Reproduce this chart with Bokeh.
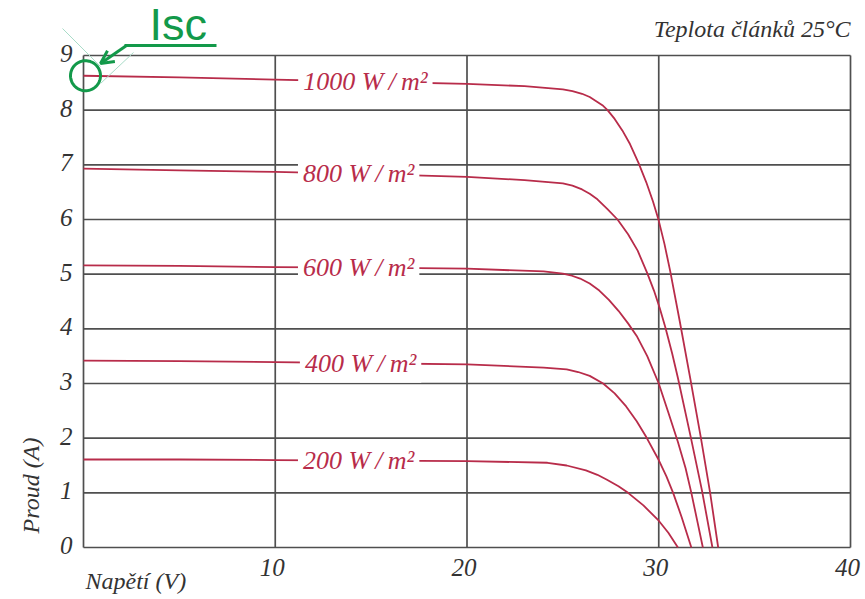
import numpy as np
from bokeh.plotting import figure
from bokeh.models import Label, Arrow, OpenHead, PolyAnnotation, Range1d
from bokeh.core.properties import value
from bokeh.embed import file_html
from bokeh.resources import INLINE

# ---- data ----
irradiance = ["1000", "800", "600", "400", "200"]

v_1000 = [0, 5, 10, 15, 20, 23, 25, 25.5, 26, 26.4, 26.8, 27.1, 27.33, 27.7, 28.1, 28.5, 28.95,
          29.35, 29.7, 30.0, 30.3, 30.6, 31.1, 31.65, 32.2, 32.68, 33.1]
i_1000 = [8.63, 8.60, 8.56, 8.52, 8.48, 8.44, 8.38, 8.35, 8.30, 8.24, 8.15, 8.08, 8.0, 7.84, 7.63, 7.38, 7.03,
          6.68, 6.33, 5.98, 5.55, 5.05, 4.13, 3.08, 2.0, 1.0, 0.0]

v_800 = [0, 5, 10, 15, 20, 23, 25, 25.5, 26, 26.4, 26.8, 27.3, 27.85, 28.4, 28.9, 29.4, 29.75, 30.05, 30.35,
         30.7, 31.0, 31.65, 32.25, 32.8]
i_800 = [6.93, 6.90, 6.87, 6.83, 6.78, 6.72, 6.66, 6.62, 6.55, 6.47, 6.37, 6.20, 6.0, 5.73, 5.43, 5.02, 4.70, 4.38,
         4.02, 3.55, 3.10, 2.05, 1.05, 0.0]

v_600 = [0, 5, 10, 15, 20, 24, 25, 25.4, 25.9, 26.4, 26.9, 27.4, 27.9, 28.4, 28.85, 29.4, 30.0, 30.5, 31.0,
         31.4, 31.7, 32.0, 32.3]
i_600 = [5.16, 5.15, 5.13, 5.12, 5.10, 5.05, 5.01, 4.98, 4.92, 4.83, 4.70, 4.53, 4.33, 4.10, 3.87, 3.50, 3.0, 2.47,
         1.93, 1.45, 1.0, 0.5, 0.0]

v_400 = [0, 5, 10, 15, 20, 24, 25.2, 25.8, 26.4, 27.1, 27.7, 28.3, 28.85, 29.35, 30.0, 30.4, 30.75, 31.2, 31.7]
i_400 = [3.42, 3.41, 3.39, 3.37, 3.35, 3.29, 3.26, 3.21, 3.14, 3.0, 2.82, 2.58, 2.31, 2.02, 1.60, 1.30, 1.0, 0.55, 0.0]

v_200 = [0, 5, 10, 15, 20, 24.2, 25.2, 26.2, 26.8, 27.3, 27.9, 28.4, 29.2, 30.0, 30.5, 31.0]
i_200 = [1.61, 1.61, 1.60, 1.59, 1.58, 1.55, 1.50, 1.41, 1.33, 1.24, 1.12, 1.0, 0.77, 0.49, 0.27, 0.0]

x_ticks = [0, 10, 20, 30, 40]
x_tick_labels = ["", "10", "20", "30", "40"]
y_ticks = [0, 1, 2, 3, 4, 5, 6, 7, 8, 9]
y_tick_labels = ["0", "1", "2", "3", "4", "5", "6", "7", "8", "9"]

curves = [(v_1000, i_1000), (v_800, i_800), (v_600, i_600), (v_400, i_400), (v_200, i_200)]
isc = i_1000[0]

# ---- styling ----
RED = "#b82c4a"
GRID = "#4f4f4f"
GREEN = "#13994a"
TXT = "#333333"
SERIF = "Liberation Serif"

W, H = 865, 599
left, right, top, bottom = 83, 850, 55, 547      # frame of the drawn chart, in pixels
xmin, xmax, ymin, ymax = x_ticks[0], x_ticks[-1], y_ticks[0], y_ticks[-1]
sx = (right - left) / (xmax - xmin)
sy = (bottom - top) / (ymax - ymin)

p = figure(width=W, height=H, output_backend="svg", toolbar_location=None,
           x_axis_location=None, y_axis_location=None,
           x_range=Range1d(xmin - left / sx, xmax + (W - right) / sx),
           y_range=Range1d(ymin - (H - bottom) / sy, ymax + top / sy),
           min_border=0)
p.title.text = ""
p.grid.visible = False
p.outline_line_color = None
p.background_fill_color = "white"
p.border_fill_color = "white"

# grid (incl. frame)
p.segment(x0=x_ticks, y0=[ymin] * len(x_ticks), x1=x_ticks, y1=[ymax] * len(x_ticks),
          line_color=GRID, line_width=1.7)
p.segment(x0=[xmin] * len(y_ticks), y0=y_ticks, x1=[xmax] * len(y_ticks), y1=y_ticks,
          line_color=GRID, line_width=1.7)

# tick labels
p.text(x=[t - 3 / sx for t in x_ticks], y=[ymin - 20 / sy] * len(x_ticks), text=x_tick_labels,
       text_font=value(SERIF), text_font_style="italic", text_font_size="25px", text_color=TXT,
       text_align="center", text_baseline="middle")
p.text(x=[xmin - 11 / sx] * len(y_ticks), y=[t + 2 / sy for t in y_ticks], text=y_tick_labels,
       text_font=value(SERIF), text_font_style="italic", text_font_size="25px", text_color=TXT,
       text_align="right", text_baseline="middle")

for v, i in curves:
    p.line(v, i, line_color=RED, line_width=1.8, line_join="round")

# curve labels
label_x = [14.7, 14.35, 14.35, 14.45, 14.35]
for (v, i), irr, lx in zip(curves, irradiance, label_x):
    ly = float(np.interp(lx, v, i))
    p.add_layout(Label(x=lx, y=ly, text=f"{irr} W\u2009/\u2009m²", text_font=SERIF, text_font_style="italic",
                       text_font_size="26px", text_color=RED, text_align="center",
                       text_baseline="middle", background_fill_color="white", padding=5))

# note and axis titles
p.add_layout(Label(x=xmax, y=ymax + 27 / sy, text="Teplota článků 25°C", text_font=SERIF,
                   text_font_style="italic", text_font_size="24px", text_color=TXT,
                   text_align="right", text_baseline="middle"))
p.add_layout(Label(x=xmin + 2 / sx, y=ymin - 33 / sy, text="Napětí (V)", text_font=SERIF,
                   text_font_style="italic", text_font_size="24px", text_color=TXT,
                   text_align="left", text_baseline="middle"))
p.add_layout(Label(x=xmin - 53 / sx, y=ymin + 62 / sy, text="Proud (A)", text_font=SERIF,
                   text_font_style="italic", text_font_size="24px", text_color=TXT,
                   text_align="center", text_baseline="middle", angle=np.pi / 2))

# Isc annotation
t = np.linspace(0, 2 * np.pi, 72)
cx, cy, r = xmin + 2 / sx, isc, 15
p.add_layout(PolyAnnotation(xs=list(cx + r / sx * np.cos(t)), ys=list(cy + r / sy * np.sin(t)),
                            fill_alpha=0, line_alpha=1, line_color=GREEN, line_width=3))
p.add_layout(Arrow(x_start=xmin + 216 / sx - left / sx, y_start=ymax + 10 / sy,
                   x_end=xmin + 124 / sx - left / sx, y_end=ymax + 10 / sy, end=None,
                   line_color=GREEN, line_width=3))
p.add_layout(Arrow(x_start=xmin + 126 / sx - left / sx, y_start=ymax + 10 / sy,
                   x_end=xmin + 100 / sx - left / sx, y_end=ymax - 8 / sy,
                   end=OpenHead(line_color=GREEN, line_width=3, size=13),
                   line_color=GREEN, line_width=3))
p.add_layout(Arrow(x_start=xmin - 21 / sx, y_start=ymax + 27 / sy, x_end=xmin + 17 / sx, y_end=ymax - 11 / sy,
                   end=None, line_color="#a9dcc8", line_width=1))
p.add_layout(Arrow(x_start=xmin + 17 / sx, y_start=ymax - 28 / sy, x_end=xmin + 50 / sx, y_end=ymax + 3 / sy,
                   end=None, line_color="#a9dcc8", line_width=1))
p.add_layout(Label(x=xmin + 66 / sx, y=ymax + 31.5 / sy, text="Isc", text_font="Liberation Sans",
                   text_font_size="45px", text_color=GREEN, text_align="left", text_baseline="middle"))

open("out.html", "w").write(file_html(p, INLINE))
